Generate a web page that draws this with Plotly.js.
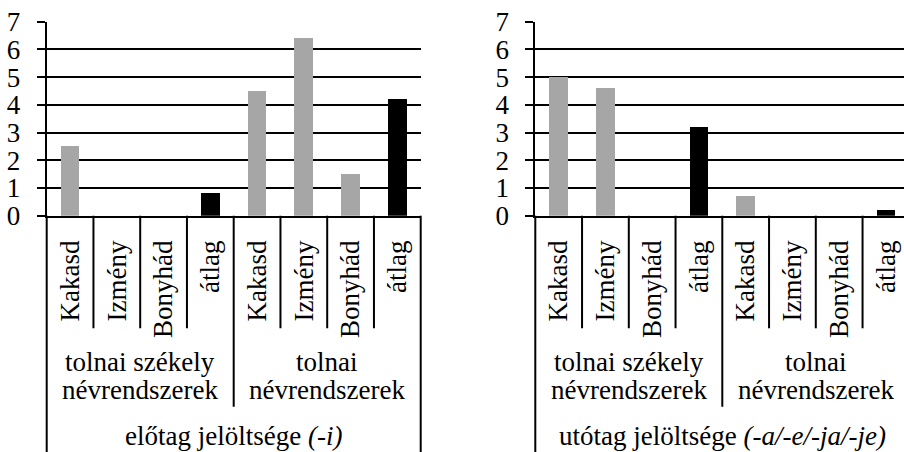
<!DOCTYPE html>
<html><head><meta charset="utf-8">
<script src="https://cdn.plot.ly/plotly-3.0.1.min.js"></script>
<style>html,body{margin:0;padding:0;background:#fff;}</style>
</head><body><div id="chart" style="width:904px;height:452px;"></div>
<script>
// ---- data ----
const names = ["Kakasd","Izmény","Bonyhád","átlag","Kakasd","Izmény","Bonyhád","átlag"];
const groupLine1 = ["tolnai székely","tolnai"];
const groupLine2 = ["névrendszerek","névrendszerek"];
const groupSize = 4;
const leftValues = [2.5, 0, 0, 0.83, 4.5, 6.4, 1.5, 4.2];
const rightValues = [5.0, 4.6, 0, 3.2, 0.7, 0, 0, 0.2];
const leftTitle = "előtag jelöltsége <i>(-i)</i>";
const rightTitle = "utótag jelöltsége <i>(-a/-e/-ja/-je)</i>";
const yTicks = [0,1,2,3,4,5,6,7];

// ---- helpers ----
const W = 904, H = 452;
const py = p => 1 - p / H;       // pixel row -> paper y
const px = p => p / W;           // pixel col -> paper x
const FONT = "Liberation Serif";
const idx = names.map((_, i) => i);
const colors = names.map(n => n === "átlag" ? "#000000" : "#a6a6a6");
const CW = 46.75; // category width in px

const traces = [
  {type:'bar', x: idx, y: leftValues, xaxis:'x', yaxis:'y', width:0.4,
   marker:{color: colors, line:{width:0}}, hoverinfo:'skip'},
  {type:'bar', x: idx, y: rightValues, xaxis:'x2', yaxis:'y2', width:0.4,
   marker:{color: colors, line:{width:0}}, hoverinfo:'skip'}
];

const yDom = [py(215.7), py(21.7)];
function xax(domain, range, anchor) {
  return {domain, range, anchor, showline:true, linecolor:'#000', linewidth:2,
    tickmode:'array', tickvals: idx, ticktext: names, tickangle:-90, ticks:'',
    showgrid:false, zeroline:false, ticklabelstandoff: 12,
    tickfont:{family:FONT, size:27, color:'#000'}, fixedrange:true, automargin:false};
}
function yax(anchor) {
  return {domain: yDom, anchor, range:[0,7], tickmode:'array', tickvals:yTicks,
    showline:true, linecolor:'#000', linewidth:2, ticks:'outside', ticklen:8,
    tickwidth:2, tickcolor:'#000', showgrid:true, gridcolor:'#000', gridwidth:2,
    zeroline:false, ticklabelstandoff: 11, tickfont:{family:FONT, size:27, color:'#000'},
    fixedrange:true, automargin:false};
}

const leftDom = [px(46.7), px(46.7 + 8*CW)];
const rightDom = [px(535.3), 1];
const rightRange = [-0.5, -0.5 + (W - 535.3)/CW];

const shapes = [];
const annotations = [];
const yAxisPaper = yDom[0];
function panel(xr, title, drawRightEdge) {
  const ln = {color:'#000', width:2};
  for (let i = 0; i < names.length - 1; i++) {
    const boundary = i + 0.5;
    const isGroup = (i + 1) % groupSize === 0;
    shapes.push({type:'line', xref:xr, yref:'paper', x0:boundary, x1:boundary,
      y0: isGroup ? py(406.7) : py(328.3), y1: yAxisPaper, line: ln});
  }
  shapes.push({type:'line', xref: xr + ' domain', yref:'paper', x0:0, x1:0, y0:0, y1:yAxisPaper, line: ln});
  if (drawRightEdge)
    shapes.push({type:'line', xref: xr + ' domain', yref:'paper', x0:1, x1:1, y0:0, y1:yAxisPaper, line: ln});
  for (let g = 0; g < groupLine1.length; g++) {
    const cx = g*groupSize + (groupSize - 1)/2;
    annotations.push({xref:xr, yref:'paper', x:cx, y:py(362), yanchor:'middle', xanchor:'center',
      text: groupLine1[g], showarrow:false, font:{family:FONT, size:27, color:'#000'}});
    annotations.push({xref:xr, yref:'paper', x:cx, y:py(390), yanchor:'middle', xanchor:'center',
      text: groupLine2[g], showarrow:false, font:{family:FONT, size:27, color:'#000'}});
  }
  annotations.push({xref:xr, yref:'paper', x:(names.length - 1)/2, y:py(436), yanchor:'middle', xanchor:'center',
    text: title, showarrow:false, font:{family:FONT, size:27, color:'#000'}});
}
panel('x', leftTitle, true);
panel('x2', rightTitle, false);

const layout = {
  width: W, height: H, autosize:false,
  margin:{l:0, r:0, t:0, b:0, pad:0},
  paper_bgcolor:'#fff', plot_bgcolor:'#fff',
  showlegend:false, bargap:0,
  font:{family:FONT, size:27, color:'#000'},
  xaxis: xax(leftDom, [-0.5, 7.5], 'y'),
  yaxis: yax('x'),
  xaxis2: xax(rightDom, rightRange, 'y2'),
  yaxis2: yax('x2'),
  shapes, annotations
};
Plotly.newPlot('chart', traces, layout, {staticPlot:true, displayModeBar:false});
</script>
</body></html>
